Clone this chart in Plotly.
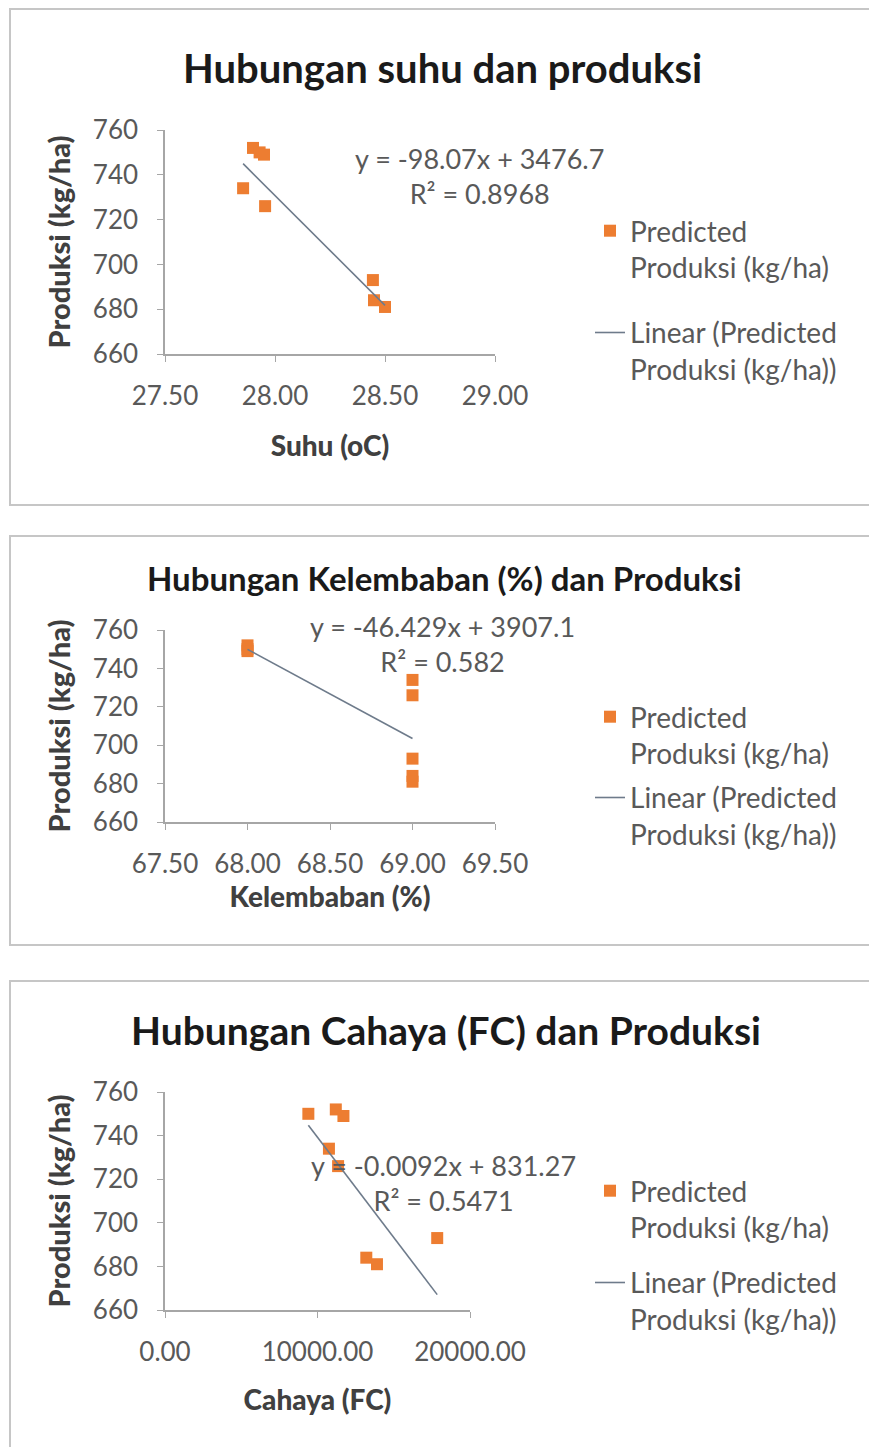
import plotly.graph_objects as go

# ---------------- data ----------------
produksi = [752, 750, 749, 734, 726, 693, 684, 681]
suhu = [27.90, 27.93, 27.95, 27.855, 27.955, 28.445, 28.45, 28.50]
kelembaban = [68.0, 68.0, 68.0, 69.0, 69.0, 69.0, 69.0, 69.0]
cahaya = [11200, 9400, 11700, 10750, 11350, 17850, 13200, 13900]

titles = ["Hubungan suhu dan produksi",
          "Hubungan Kelembaban (%) dan Produksi",
          "Hubungan Cahaya (FC) dan Produksi"]
x_titles = ["Suhu (oC)", "Kelembaban (%)", "Cahaya (FC)"]
y_title = "Produksi (kg/ha)"
slopes = [-98.07, -46.429, -0.0092]
intercepts = [3476.7, 3907.1, 831.27]
r2 = ["0.8968", "0.582", "0.5471"]
series_name = "Predicted<br>Produksi (kg/ha)"
trend_name = "Linear (Predicted<br>Produksi (kg/ha))"

W, H = 869, 1447
def X(px): return px / W
def Y(py): return 1 - py / H

ORANGE = "#ED7D31"
TREND = "#6E7B8B"
AX = "#A6A6A6"
TXT = "#595959"
FONT = "Lato"

fig = go.Figure()

xs_all = [suhu, kelembaban, cahaya]
for i, xs in enumerate(xs_all):
    n = "" if i == 0 else str(i + 1)
    lg = "legend" if i == 0 else f"legend{i+1}"
    fig.add_trace(go.Scatter(
        x=xs, y=produksi, mode="markers", name=series_name,
        marker=dict(symbol="square", color=ORANGE, size=12, line=dict(width=0)),
        xaxis="x" + n, yaxis="y" + n, legend=lg, legendgroup=f"a{i}"))
    x0, x1 = min(xs), max(xs)
    fig.add_trace(go.Scatter(
        x=[x0, x1], y=[slopes[i] * x0 + intercepts[i], slopes[i] * x1 + intercepts[i]],
        mode="lines", name=trend_name, line=dict(color=TREND, width=1.6),
        xaxis="x" + n, yaxis="y" + n, legend=lg, legendgroup=f"b{i}"))

# panel geometry (pixels)
panels = [
    dict(xd=(165, 495), yd=(354, 130), xr=[27.5, 29.0], dt=0.5,
         title_y=68, title_x=442, title_size=40, xstand=26, gap=26,
         eq_x=480, eq_y=176, leg_y=206, frame=(9, 505)),
    dict(xd=(165, 495), yd=(822, 630), xr=[67.5, 69.5], dt=0.5,
         title_y=578, title_x=444, title_size=33, xstand=9, gap=5,
         eq_x=442, eq_y=644, leg_y=692, frame=(536, 945)),
    dict(xd=(165, 470), yd=(1310, 1092), xr=[0, 20000], dt=10000,
         title_y=1030, title_x=446, title_size=39, xstand=24, gap=16,
         eq_x=443, eq_y=1183, leg_y=1166, frame=(981, 1470)),
]

layout = dict(width=W, height=H, margin=dict(l=0, r=0, t=0, b=0, autoexpand=False),
              template="none",
              paper_bgcolor="white", plot_bgcolor="white",
              font=dict(family=FONT, color=TXT), showlegend=True)
annotations = []
shapes = []
for i, p in enumerate(panels):
    n = "" if i == 0 else str(i + 1)
    layout["xaxis" + n] = dict(
        domain=[X(p["xd"][0]), X(p["xd"][1])], range=p["xr"], dtick=p["dt"], tick0=p["xr"][0],
        tickformat=".2f", showline=True, linecolor=AX, linewidth=1.5, ticks="outside",
        ticklen=6, tickcolor=AX, showgrid=False, zeroline=False, automargin=False,
        tickfont=dict(size=26, color=TXT, family=FONT), ticklabelstandoff=12,
        title=dict(text=x_titles[i], font=dict(size=28, color="#404040", family=FONT + " Black"),
                   standoff=p["xstand"]),
        anchor="y" + n)
    layout["yaxis" + n] = dict(
        domain=[Y(p["yd"][0]), Y(p["yd"][1])], range=[660, 760], dtick=20,
        showline=True, linecolor=AX, linewidth=1.5, ticks="outside",
        ticklen=6, tickcolor=AX, showgrid=False, zeroline=False, automargin=False,
        tickfont=dict(size=26, color=TXT, family=FONT), ticklabelstandoff=14,
        title=dict(text=y_title, font=dict(size=29, color="#404040", family=FONT + " Black"),
                   standoff=14),
        anchor="x" + n)
    lname = "legend" if i == 0 else f"legend{i+1}"
    layout[lname] = dict(x=X(590), y=Y(p["leg_y"]), xanchor="left", yanchor="top",
                         font=dict(size=28, color=TXT, family=FONT), valign="top",
                         tracegroupgap=p["gap"], bgcolor="rgba(0,0,0,0)")
    annotations.append(dict(text="<b>" + titles[i] + "</b>", x=X(p["title_x"]), y=Y(p["title_y"]),
                            xref="paper", yref="paper", showarrow=False,
                            xanchor="center", yanchor="middle",
                            font=dict(size=p["title_size"], color="#1a1a1a", family=FONT)))
    s = slopes[i]
    eq = f"y = {s}x + {intercepts[i]}<br>R² = {r2[i]}"
    annotations.append(dict(text=eq, x=X(p["eq_x"]), y=Y(p["eq_y"]), xref="paper", yref="paper",
                            showarrow=False, align="center", xanchor="center", yanchor="middle",
                            font=dict(size=27, color=TXT, family=FONT)))
    shapes.append(dict(type="rect", xref="paper", yref="paper",
                       x0=X(10), x1=X(900), y0=Y(p["frame"][1]), y1=Y(p["frame"][0]),
                       line=dict(color="#C6C6C6", width=2), fillcolor="rgba(0,0,0,0)", layer="below"))

layout["annotations"] = annotations
layout["shapes"] = shapes
fig.update_layout(**layout)
fig.write_html("out.html", config={"displayModeBar": False},
               post_script="document.body.style.margin='0px';")
